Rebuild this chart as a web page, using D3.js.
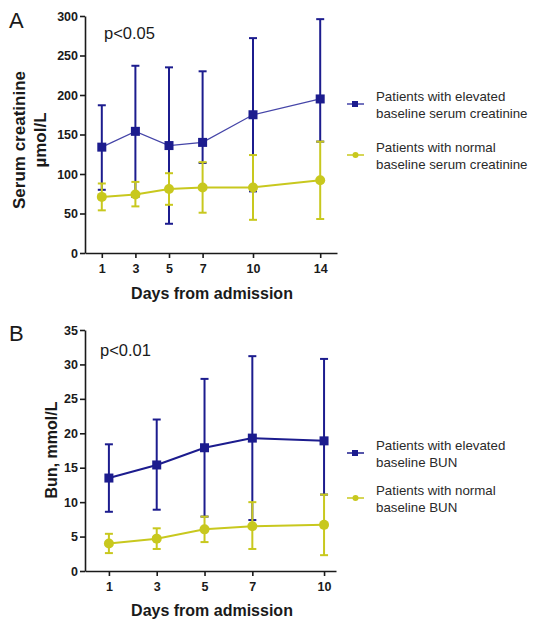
<!DOCTYPE html>
<html><head><meta charset="utf-8">
<script src="https://cdn.jsdelivr.net/npm/d3@7"></script>
<style>body{margin:0;background:#fff}svg{display:block}</style>
</head><body>
<script>
// ---- Data (panel A: serum creatinine, µmol/L) ----
const daysA = [1, 3, 5, 7, 10, 14];
const creatElevMean  = [134, 154, 136, 140, 175, 195];
const creatElevUpper = [187, 237, 235, 230, 272, 296];
const creatElevLower = [80, 71, 37, 114, 78, 141];
const creatNormMean  = [71, 74, 81, 83, 83, 92];
const creatNormUpper = [88, 90, 101, 115, 124, 141];
const creatNormLower = [54, 59, 61, 51, 42, 43];
const yTicksA = [0, 50, 100, 150, 200, 250, 300];

// ---- Data (panel B: BUN, mmol/L) ----
const daysB = [1, 3, 5, 7, 10];
const bunElevMean  = [13.5, 15.4, 17.9, 19.3, 18.9];
const bunElevUpper = [18.4, 22.0, 27.9, 31.2, 30.8];
const bunElevLower = [8.6, 8.9, 7.9, 7.4, 11.1];
const bunNormMean  = [4.0, 4.7, 6.05, 6.5, 6.7];
const bunNormUpper = [5.4, 6.2, 7.9, 10.0, 11.1];
const bunNormLower = [2.6, 3.2, 4.2, 3.2, 2.3];
const yTicksB = [0, 5, 10, 15, 20, 25, 30, 35];

const legendA = [["Patients with elevated", "baseline serum creatinine"], ["Patients with normal", "baseline serum creatinine"]];
const legendB = [["Patients with elevated", "baseline BUN"], ["Patients with normal", "baseline BUN"]];

const BLUE = "#1c1c8e", YELLOW = "#c8c81e", INK = "#1a1a1a";
const FONT = "Arial, 'Liberation Sans', sans-serif";

const svg = d3.select("body").append("svg").attr("width", 533).attr("height", 620);

function panel(cfg) {
  const g = svg.append("g");
  const x = d3.scaleLinear().domain(cfg.xDomain).range([85, cfg.xRight]);
  const y = d3.scaleLinear().domain([0, cfg.yMax]).range([cfg.y0, cfg.yTop]);

  const ya = g.append("g").attr("transform", "translate(85,0)")
    .call(d3.axisLeft(y).tickValues(cfg.yTicks).tickSize(5).tickSizeOuter(0).tickPadding(2));
  const xa = g.append("g").attr("transform", `translate(0,${cfg.y0})`)
    .call(d3.axisBottom(x).tickValues(cfg.days).tickSize(5).tickSizeOuter(0).tickPadding(6));
  [ya, xa].forEach(a => {
    a.selectAll("path,line").attr("stroke", INK).attr("stroke-width", 1.6);
    a.selectAll("text").attr("fill", INK).style("font-family", FONT)
      .style("font-weight", "bold").style("font-size", "12.5px");
  });

  cfg.series.forEach(s => {
    const sg = g.append("g");
    const pts = cfg.days.map((d, i) => ({d, m: s.mean[i], u: s.upper[i], l: s.lower[i]}));
    sg.selectAll(".eb").data(pts).enter().append("line")
      .attr("x1", p => x(p.d)).attr("x2", p => x(p.d))
      .attr("y1", p => y(p.u)).attr("y2", p => y(p.l))
      .attr("stroke", s.color).attr("stroke-width", 2);
    ["u", "l"].forEach(k => {
      sg.selectAll(".cap" + k).data(pts).enter().append("line")
        .attr("x1", p => x(p.d) - 4).attr("x2", p => x(p.d) + 4)
        .attr("y1", p => y(p[k])).attr("y2", p => y(p[k]))
        .attr("stroke", s.color).attr("stroke-width", 2);
    });
    sg.append("path").datum(pts)
      .attr("d", d3.line().x(p => x(p.d)).y(p => y(p.m)))
      .attr("fill", "none").attr("stroke", s.lineColor || s.color).attr("stroke-width", s.lw);
    if (s.shape === "square") {
      sg.selectAll(".mk").data(pts).enter().append("rect")
        .attr("x", p => x(p.d) - 4.5).attr("y", p => y(p.m) - 4.5)
        .attr("width", 9).attr("height", 9).attr("fill", s.color);
    } else {
      sg.selectAll(".mk").data(pts).enter().append("circle")
        .attr("cx", p => x(p.d)).attr("cy", p => y(p.m)).attr("r", 5).attr("fill", s.color);
    }
  });

  g.append("text").attr("x", 9).attr("y", cfg.letterY).text(cfg.letter)
    .style("font-family", FONT).style("font-size", "22px").attr("fill", INK);
  g.append("text").attr("x", cfg.pX).attr("y", cfg.pY).text(cfg.p)
    .style("font-family", FONT).style("font-size", "16.5px").attr("fill", INK);
  const yt = g.append("text").attr("transform", `translate(${cfg.yTitleX},${cfg.yTitleY}) rotate(-90)`)
    .attr("text-anchor", "middle").style("font-family", FONT).style("font-weight", "bold")
    .style("font-size", cfg.yTitleSize).attr("fill", INK);
  cfg.yTitle.forEach((t, i) => yt.append("tspan").attr("x", 0).attr("dy", i === 0 ? 0 : 21).text(t));
  g.append("text").attr("x", 212).attr("y", cfg.xTitleY).attr("text-anchor", "middle")
    .text("Days from admission").style("font-family", FONT).style("font-weight", "bold")
    .style("font-size", "16px").attr("fill", INK);

  cfg.legend.forEach((lines, i) => {
    const s = cfg.series[i];
    const cy = cfg.legendY[i];
    g.append("line").attr("x1", 347).attr("x2", 364).attr("y1", cy).attr("y2", cy)
      .attr("stroke", s.lineColor || s.color).attr("stroke-width", 1.5);
    if (s.shape === "square") {
      g.append("rect").attr("x", 352).attr("y", cy - 3).attr("width", 6).attr("height", 6).attr("fill", s.color);
    } else {
      g.append("circle").attr("cx", 355.5).attr("cy", cy).attr("r", 3).attr("fill", s.color);
    }
    lines.forEach((t, j) => {
      g.append("text").attr("x", 376).attr("y", cy - 3 + j * 17).text(t)
        .style("font-family", FONT).style("font-size", "13.3px").attr("fill", "#2a2a2a");
    });
  });
}

panel({
  days: daysA, xDomain: [0, 15], xRight: 337, yMax: 300, y0: 253, yTop: 16, yTicks: yTicksA,
  series: [
    {mean: creatElevMean, upper: creatElevUpper, lower: creatElevLower, color: BLUE, lineColor: "#4545a8", lw: 1.2, shape: "square"},
    {mean: creatNormMean, upper: creatNormUpper, lower: creatNormLower, color: YELLOW, lw: 2, shape: "circle"}
  ],
  letter: "A", letterY: 28, p: "p<0.05", pX: 104, pY: 39,
  yTitle: ["Serum creatinine", "µmol/L"], yTitleSize: "17px", yTitleX: 25, yTitleY: 140, xTitleY: 299,
  legend: legendA, legendY: [104, 155]
});

panel({
  days: daysB, xDomain: [0, 10.5], xRight: 336, yMax: 35, y0: 571, yTop: 330, yTicks: yTicksB,
  series: [
    {mean: bunElevMean, upper: bunElevUpper, lower: bunElevLower, color: BLUE, lw: 2, shape: "square"},
    {mean: bunNormMean, upper: bunNormUpper, lower: bunNormLower, color: YELLOW, lw: 2, shape: "circle"}
  ],
  letter: "B", letterY: 341, p: "p<0.01", pX: 100, pY: 356,
  yTitle: ["Bun, mmol/L"], yTitleSize: "16px", yTitleX: 57, yTitleY: 450, xTitleY: 616,
  legend: legendB, legendY: [453, 498]
});
</script>
</body></html>
